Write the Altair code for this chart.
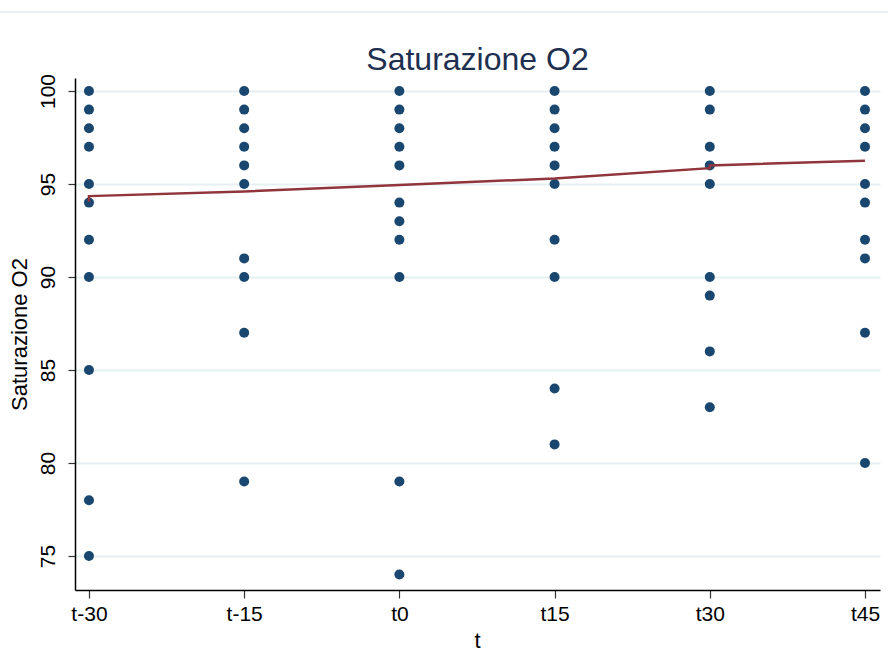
import altair as alt
import pandas as pd

# ---- data ----
cats = ["t-30", "t-15", "t0", "t15", "t30", "t45"]
cat_pos = [-30, -15, 0, 15, 30, 45]

sat_t_m30 = [100, 99, 98, 97, 95, 94, 92, 90, 85, 78, 75]
sat_t_m15 = [100, 99, 98, 97, 96, 95, 91, 90, 87, 79]
sat_t_0 = [100, 99, 98, 97, 96, 94, 93, 92, 90, 79, 74]
sat_t_15 = [100, 99, 98, 97, 96, 95, 92, 90, 84, 81]
sat_t_30 = [100, 99, 97, 96, 95, 90, 89, 86, 83]
sat_t_45 = [100, 99, 98, 97, 95, 94, 92, 91, 87, 80]

fit_t = [-30, -30, -15, 0, 15, 30, 30, 45]
fit_y = [94.05, 94.35, 94.6, 94.95, 95.3, 95.85, 96.0, 96.25]

y_ticks = [75, 80, 85, 90, 95, 100]

# ---- tables ----
cols = [sat_t_m30, sat_t_m15, sat_t_0, sat_t_15, sat_t_30, sat_t_45]
rows = []
for pos, vals in zip(cat_pos, cols):
    for v in vals:
        rows.append({"t": pos, "sat": v})
pts = pd.DataFrame(rows)
fit = pd.DataFrame({"t": fit_t, "sat": fit_y, "order": list(range(len(fit_t)))})

label_expr = ("datum.value == -30 ? 't-30' : datum.value == -15 ? 't-15' : "
              "datum.value == 0 ? 't0' : 't' + datum.value")

FONT = "Liberation Sans"
xscale = alt.Scale(domain=[-31.35, 46.45], nice=False, zero=False)
yscale = alt.Scale(domain=[73.17, 100.7], nice=False, zero=False)

xaxis = alt.Axis(values=cat_pos, labelExpr=label_expr, title="t", grid=False,
                 domainColor="#000000", domainWidth=1.5, tickColor="#333333",
                 tickSize=8, tickWidth=1.2, labelFontSize=21, labelFont=FONT,
                 labelColor="#000000", labelPadding=5, titleFont=FONT,
                 titleFontSize=22, titleFontWeight="normal", titleColor="#000000",
                 titleX=402, titleY=57, titleBaseline="alphabetic")
yaxis = alt.Axis(values=y_ticks, title="Saturazione O2", grid=True,
                 gridColor="#e6eff1", gridWidth=2, domainColor="#000000",
                 domainWidth=1.5, tickColor="#333333", tickSize=7, tickWidth=1.2,
                 labelFontSize=21, labelFont=FONT, labelColor="#000000",
                 labelAngle=-90, labelAlign="center", labelBaseline="bottom",
                 labelPadding=10, titleFont=FONT, titleFontSize=22,
                 titleFontWeight="normal", titleColor="#000000",
                 titleAngle=-90, titleX=-56, titleY=256, titleBaseline="middle",
                 titleAlign="center")

points = alt.Chart(pts).mark_circle(size=100, color="#1a476f", opacity=1).encode(
    x=alt.X("t:Q", scale=xscale, axis=xaxis),
    y=alt.Y("sat:Q", scale=yscale, axis=yaxis),
)

line = alt.Chart(fit).mark_line(color="#90353b", strokeWidth=2.5).encode(
    x=alt.X("t:Q", scale=xscale),
    y=alt.Y("sat:Q", scale=yscale),
    order="order:Q",
)

border = alt.Chart(pd.DataFrame({"a": [0]})).mark_rule(
    color="#e3eaee", strokeWidth=1.5, clip=False
).encode(x=alt.value(-75), x2=alt.value(813), y=alt.value(-66))

chart = (points + line + border).properties(
    width=805, height=512,
    title=alt.TitleParams("Saturazione O2", font=FONT, fontSize=32,
                          fontWeight="normal", color="#1e3050",
                          baseline="alphabetic", offset=4, dy=95, anchor="middle"),
    autosize=alt.AutoSizeParams(type="none"),
    padding={"left": 75, "top": 78, "right": 8, "bottom": 80},
    background="white",
).configure_view(stroke=None)

chart.save("out.html", embed_options={"renderer": "svg", "actions": False})
